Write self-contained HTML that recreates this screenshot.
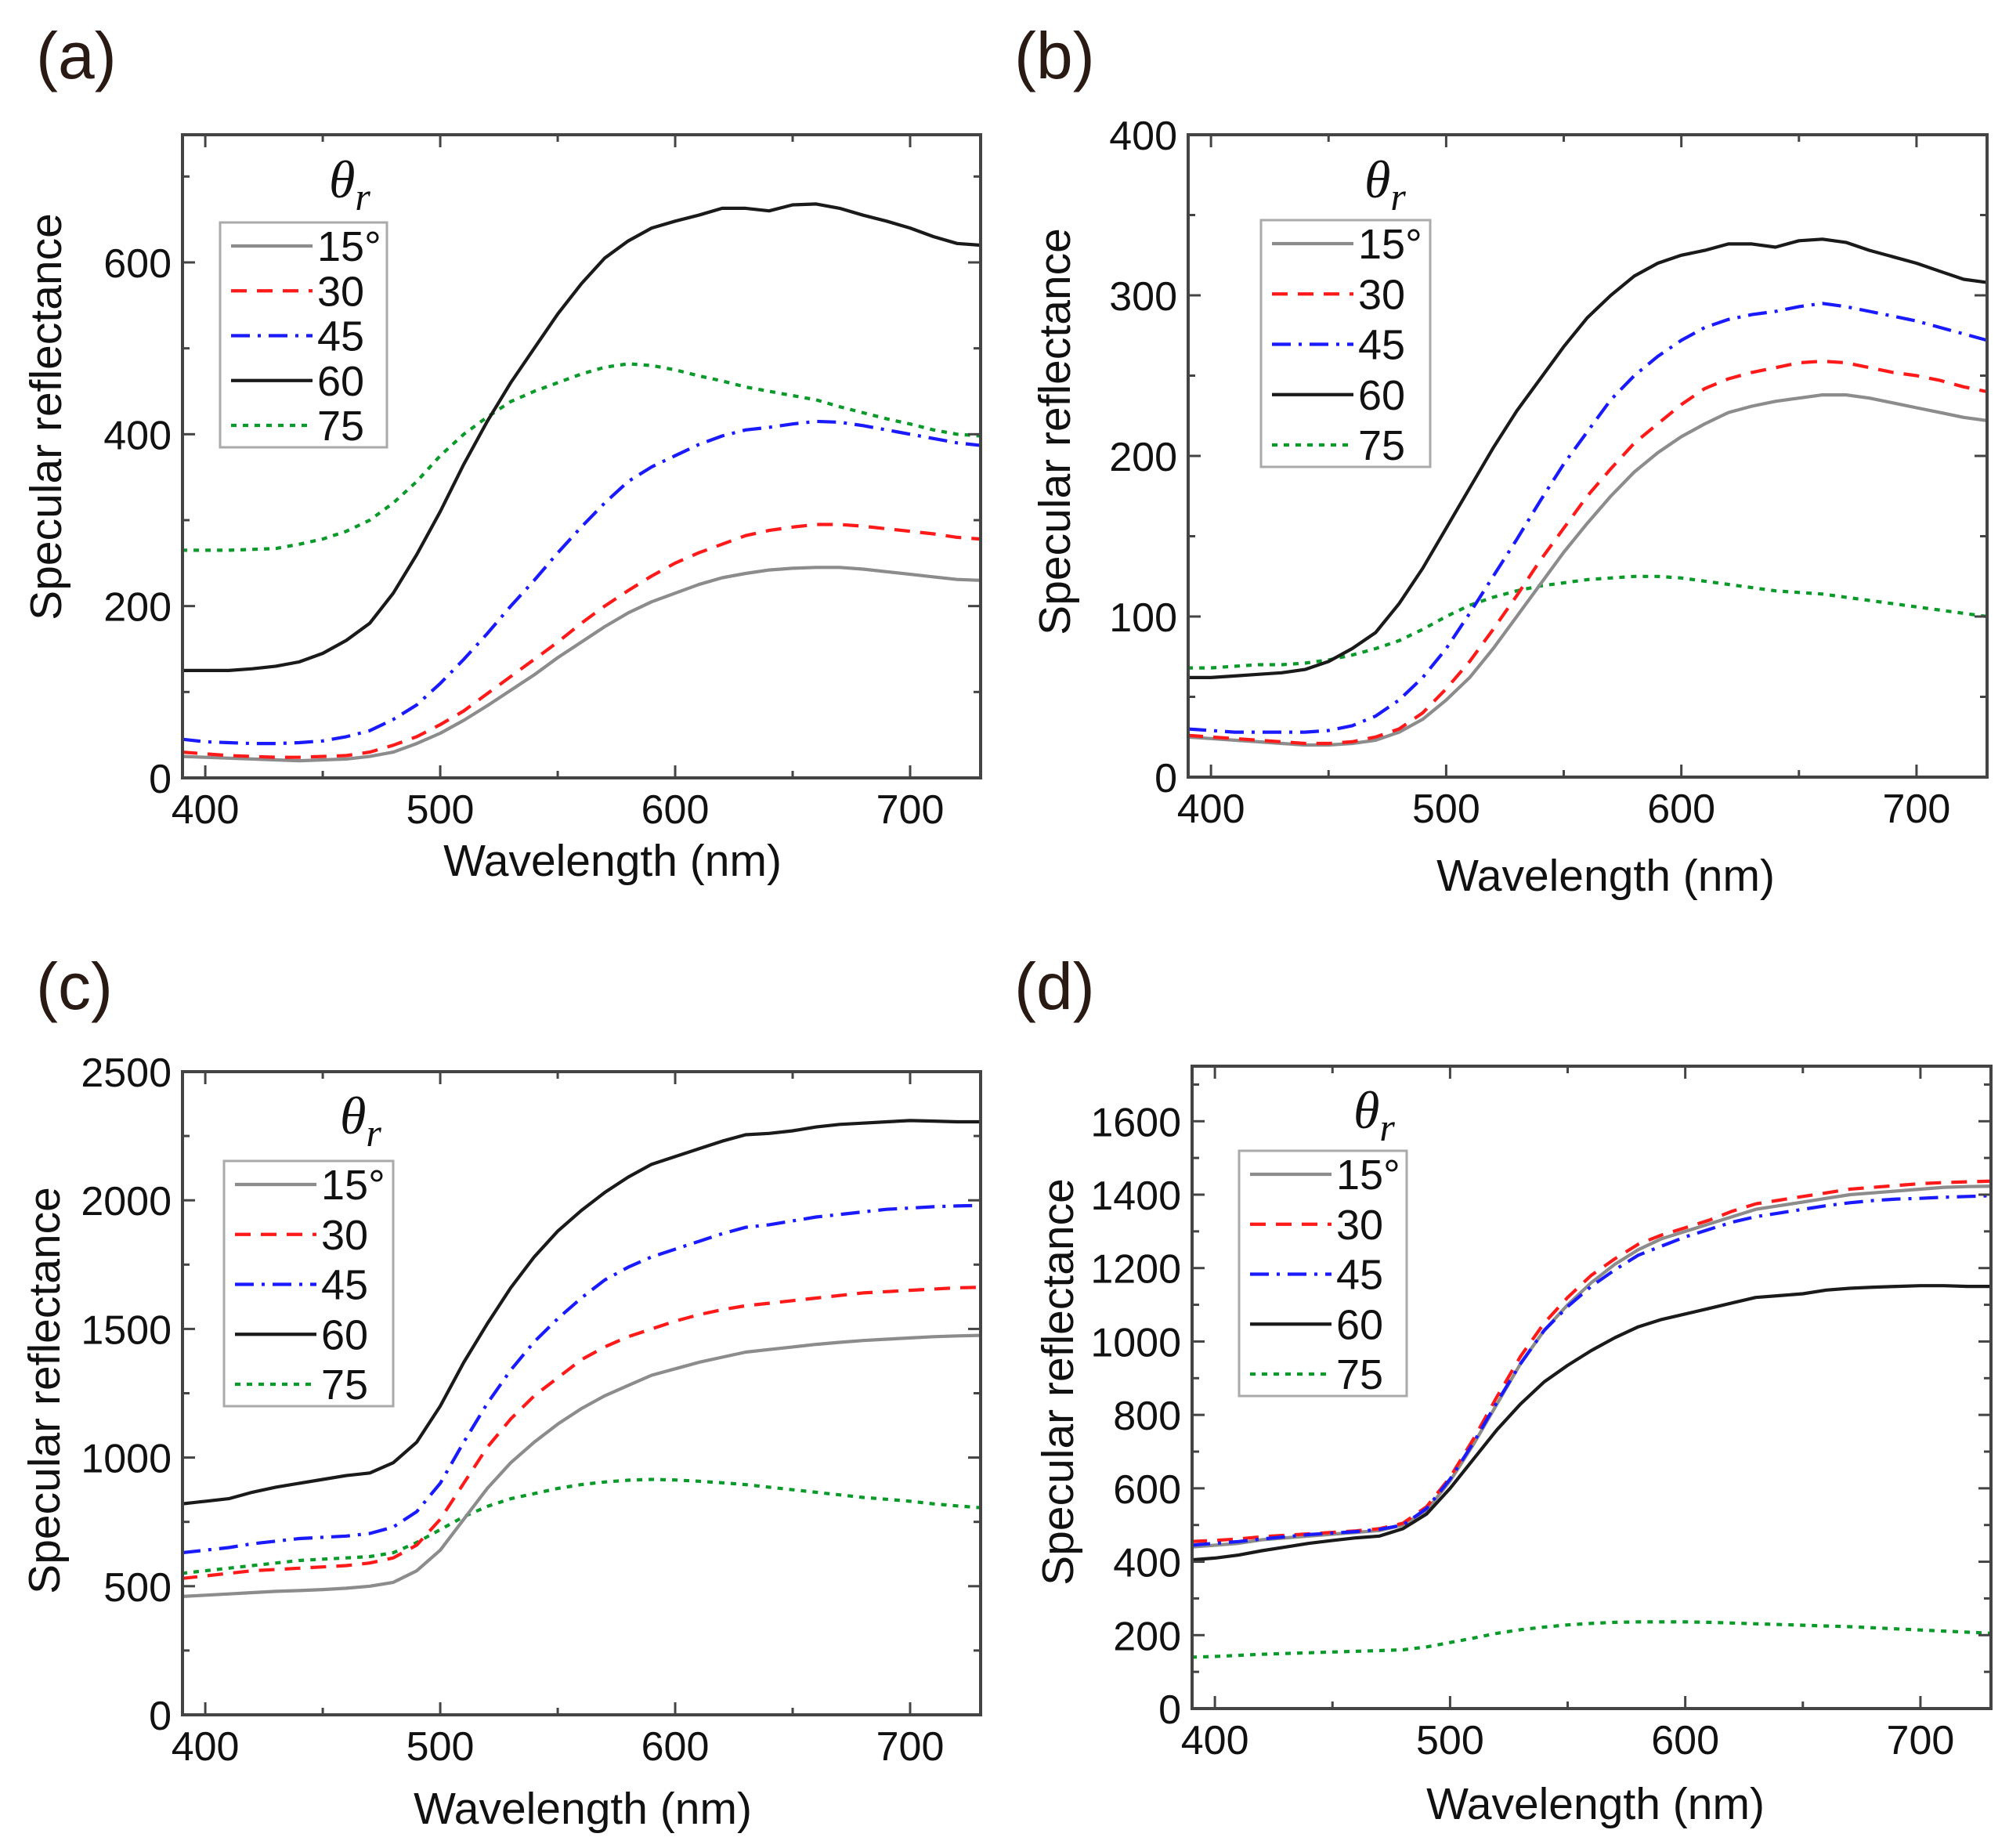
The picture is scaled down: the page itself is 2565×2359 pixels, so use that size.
<!DOCTYPE html>
<html><head><meta charset="utf-8"><style>
html,body{margin:0;padding:0;background:#fff;}
svg{display:block;font-family:"Liberation Sans",Arial,sans-serif;}
</style></head><body>
<svg id="fig" width="2565" height="2359" viewBox="0 0 2565 2359" xmlns="http://www.w3.org/2000/svg"></svg>
<script>
const wavelengths = [390,400,410,420,430,440,450,460,470,480,490,500,510,520,530,540,550,560,570,580,590,600,610,620,630,640,650,660,670,680,690,700,710,720,730];
const seriesLabels = ["15°","30","45","60","75"];

const a15 = [25,24,23,22,21,20,21,22,25,30,40,52,67,84,102,120,140,158,176,192,205,215,225,233,238,242,244,245,245,243,240,237,234,231,230];
const a30 = [30,28,26,25,24,24,25,26,30,38,48,62,78,98,118,138,158,180,200,218,235,250,262,272,282,288,292,295,295,293,290,287,284,280,278];
const a45 = [45,42,41,40,40,41,43,48,55,68,85,110,138,168,200,230,262,292,320,345,362,375,388,398,405,408,412,415,414,410,405,400,395,390,387];
const a60 = [125,125,125,127,130,135,145,160,180,215,260,310,365,415,460,500,540,575,605,625,640,648,655,663,663,660,667,668,663,655,648,640,630,622,620];
const a75 = [265,265,265,266,267,272,278,287,300,320,345,375,400,420,438,450,460,470,478,482,480,475,468,462,455,450,445,440,432,425,418,412,405,400,398];

const b15 = [25,24,23,22,21,20,20,21,23,28,36,48,62,80,100,120,140,158,175,190,202,212,220,227,231,234,236,238,238,236,233,230,227,224,222];
const b30 = [26,25,24,23,22,21,21,22,25,30,40,55,72,92,113,135,155,175,192,208,220,232,242,248,252,255,258,259,258,255,252,250,247,243,240];
const b45 = [30,29,28,28,28,28,29,32,38,48,62,80,102,125,148,172,195,215,235,250,262,272,280,285,288,290,293,295,293,290,287,284,280,276,272];
const b60 = [62,62,63,64,65,67,72,80,90,108,130,155,180,205,228,248,268,286,300,312,320,325,328,332,332,330,334,335,333,328,324,320,315,310,308];
const b75 = [68,68,69,70,70,71,73,76,80,85,92,100,107,112,116,119,121,123,124,125,125,124,122,120,118,116,115,114,112,110,108,106,104,102,100];

const c15 = [460,465,470,475,480,483,487,492,500,515,560,640,760,880,980,1060,1130,1190,1240,1280,1320,1345,1370,1390,1410,1420,1430,1440,1448,1455,1460,1465,1470,1473,1475];
const c30 = [530,540,550,560,565,570,575,580,590,610,660,760,900,1040,1150,1240,1310,1380,1430,1470,1500,1530,1555,1575,1590,1600,1610,1620,1630,1640,1645,1650,1655,1660,1662];
const c45 = [630,640,650,665,675,685,690,695,705,730,790,900,1060,1210,1340,1450,1540,1620,1690,1740,1780,1810,1840,1870,1895,1905,1920,1935,1945,1955,1965,1970,1975,1978,1980];
const c60 = [820,830,840,865,885,900,915,930,940,980,1060,1200,1370,1520,1660,1780,1880,1960,2030,2090,2140,2170,2200,2230,2255,2260,2270,2285,2295,2300,2305,2310,2308,2305,2305];
const c75 = [550,560,570,580,590,600,605,610,615,630,670,720,770,810,840,860,880,895,905,912,915,913,908,902,895,885,875,865,855,845,838,830,820,812,805];

const d15 = [440,445,450,460,465,470,475,480,485,500,540,620,720,830,940,1030,1100,1160,1210,1250,1280,1300,1320,1340,1360,1370,1380,1390,1400,1405,1410,1415,1420,1422,1423];
const d30 = [455,458,462,468,472,476,480,484,490,505,550,630,735,850,960,1050,1120,1180,1225,1265,1290,1310,1330,1355,1375,1385,1395,1405,1415,1420,1425,1430,1433,1435,1437];
const d45 = [445,450,455,462,468,474,478,482,488,500,545,625,725,835,940,1030,1095,1150,1195,1235,1260,1285,1305,1325,1340,1350,1360,1370,1378,1384,1388,1390,1393,1395,1397];
const d60 = [405,410,418,430,440,450,458,465,470,490,530,600,680,760,830,890,935,975,1010,1040,1060,1075,1090,1105,1120,1125,1130,1140,1145,1148,1150,1152,1152,1150,1150];
const d75 = [140,142,145,148,150,152,154,156,158,160,168,180,192,205,215,222,228,232,235,236,236,236,235,233,231,229,227,225,223,220,217,214,211,208,205];

const xTicks = [400,500,600,700];
const aYTicks = [0,200,400,600];
const bYTicks = [0,100,200,300,400];
const cYTicks = [0,500,1000,1500,2000,2500];
const dYTicks = [0,200,400,600,800,1000,1200,1400,1600];

const NS = "http://www.w3.org/2000/svg";
const svg = document.getElementById('fig');
const styles = [
  {stroke:"#8c8c8c", dash:""},
  {stroke:"#ff1a1a", dash:"20,13"},
  {stroke:"#1a1aff", dash:"24,10,4,10"},
  {stroke:"#1a1a1a", dash:""},
  {stroke:"#0a9a2a", dash:"7,8"}
];
function mk(tag, attrs, parent){
  const e = document.createElementNS(NS, tag);
  for (const k in attrs) e.setAttribute(k, attrs[k]);
  (parent||svg).appendChild(e);
  return e;
}
function panel(cfg){
  const g = mk('g', {});
  
  
  const L=cfg.L, R=cfg.R, T=cfg.T, B=cfg.B;
  const x0=390.3, x1=730;
  const sx = v => L + (v - x0) / (x1 - x0) * (R - L);
  const sy = v => B - v / cfg.ymax * (B - T);
  const lab = mk('text', {x: cfg.labX, y: cfg.labY, 'font-size': 84, fill: '#2a1a14'}, g);
  lab.textContent = '(' + cfg.id + ')';
  
  
  const clipId = 'clip' + cfg.id;
  const cp = mk('clipPath', {id: clipId}, g);
  mk('rect', {x: L, y: T, width: R - L, height: B - T}, cp);
  const sg = mk('g', {'clip-path': 'url(#' + clipId + ')'}, g);
  const order = [4,0,1,2,3];
  order.forEach(i => {
    const vals = cfg.series[i];
    let d = '';
    wavelengths.forEach((w, j) => { d += (j ? 'L' : 'M') + sx(w).toFixed(1) + ',' + sy(vals[j]).toFixed(1); });
    const p = mk('path', {d: d, fill: 'none', stroke: styles[i].stroke, 'stroke-width': 4.2, 'stroke-dasharray': styles[i].dash, 'stroke-linejoin': 'round'}, sg);
    
    
  });
  const fr = mk('rect', {x: L, y: T, width: R - L, height: B - T, fill: 'none', stroke: '#444', 'stroke-width': 4}, g);
  
  
  for (let v = 400; v <= 730; v += 50) {
    const len = (v % 100 === 0) ? 16 : 9;
    const X = sx(v);
    mk('line', {x1: X, y1: B, x2: X, y2: B - len, stroke: '#444', 'stroke-width': 3}, g);
    mk('line', {x1: X, y1: T, x2: X, y2: T + len, stroke: '#444', 'stroke-width': 3}, g);
  }
  xTicks.forEach(v => {
    const t = mk('text', {x: sx(v), y: B + 58, 'font-size': 52, 'text-anchor': 'middle', fill: '#111'}, g);
    t.textContent = v;
    
    
  });
  const step = cfg.yTicks[1] - cfg.yTicks[0];
  for (let v = 0; v <= cfg.ymax + 1e-6; v += step / 2) {
    const major = Math.abs(v / step - Math.round(v / step)) < 1e-6;
    const len = major ? 16 : 9;
    const Y = sy(v);
    mk('line', {x1: L, y1: Y, x2: L + len, y2: Y, stroke: '#444', 'stroke-width': 3}, g);
    mk('line', {x1: R, y1: Y, x2: R - len, y2: Y, stroke: '#444', 'stroke-width': 3}, g);
  }
  cfg.yTicks.forEach(v => {
    const t = mk('text', {x: L - 14, y: sy(v) + 19, 'font-size': 52, 'text-anchor': 'end', fill: '#111'}, g);
    t.textContent = v;
    
    
  });
  const xt = mk('text', {x: cfg.xtX, y: cfg.xtY, 'font-size': 57, 'text-anchor': 'middle', fill: '#111'}, g);
  xt.textContent = 'Wavelength (nm)';
  
  
  const yt = mk('text', {x: 0, y: 0, 'font-size': 57, 'text-anchor': 'middle', fill: '#111', transform: 'translate(' + cfg.ytX + ',' + cfg.ytY + ') rotate(-90)'}, g);
  yt.textContent = 'Specular reflectance';
  
  
  const lg = mk('g', {}, g);
  
  
  const th = mk('text', {x: cfg.thX, y: cfg.thY, 'font-size': 68, 'font-style': 'italic', 'font-family': '"Liberation Serif",serif', fill: '#111'}, lg);
  th.textContent = 'θ';
  const sub = mk('tspan', {dy: 16, 'font-size': 50}, th);
  sub.textContent = 'r';
  mk('rect', {x: cfg.lgL, y: cfg.lgT, width: cfg.lgW, height: cfg.lgH, fill: '#fff', stroke: '#aaa', 'stroke-width': 3}, lg);
  seriesLabels.forEach((s, i) => {
    const cy = cfg.lgT + 30 + i * (cfg.lgH - 58) / 4;
    const e = mk('g', {}, lg);
    
    
    mk('line', {x1: cfg.lgL + 14, y1: cy, x2: cfg.lgL + 118, y2: cy, stroke: styles[i].stroke, 'stroke-width': 4.2, 'stroke-dasharray': styles[i].dash}, e);
    const t = mk('text', {x: cfg.lgL + 124, y: cy + 19, 'font-size': 54, fill: '#111'}, e);
    t.textContent = s;
  });
}
panel({id:'a', L:233, R:1252, T:172, B:993, ymax:748.6, yTicks:aYTicks, series:[a15,a30,a45,a60,a75],
  labX:46, labY:100, xtX:782, xtY:1118, ytX:78, ytY:532, thX:420, thY:252, lgL:281, lgT:284, lgW:213, lgH:287});
panel({id:'b', L:1517, R:2537, T:172, B:992, ymax:400, yTicks:bYTicks, series:[b15,b30,b45,b60,b75],
  labX:1295, labY:100, xtX:2050, xtY:1137, ytX:1366, ytY:551, thX:1742, thY:252, lgL:1610, lgT:281, lgW:216, lgH:315});
panel({id:'c', L:233, R:1252, T:1368, B:2189, ymax:2500, yTicks:cYTicks, series:[c15,c30,c45,c60,c75],
  labX:46, labY:1288, xtX:744, xtY:2328, ytX:76, ytY:1775, thX:434, thY:1447, lgL:286, lgT:1482, lgW:216, lgH:313});
panel({id:'d', L:1522, R:2542, T:1361, B:2181, ymax:1750, yTicks:dYTicks, series:[d15,d30,d45,d60,d75],
  labX:1295, labY:1288, xtX:2037, xtY:2322, ytX:1370, ytY:1764, thX:1728, thY:1440, lgL:1582, lgT:1469, lgW:214, lgH:313});
</script>
</body></html>
